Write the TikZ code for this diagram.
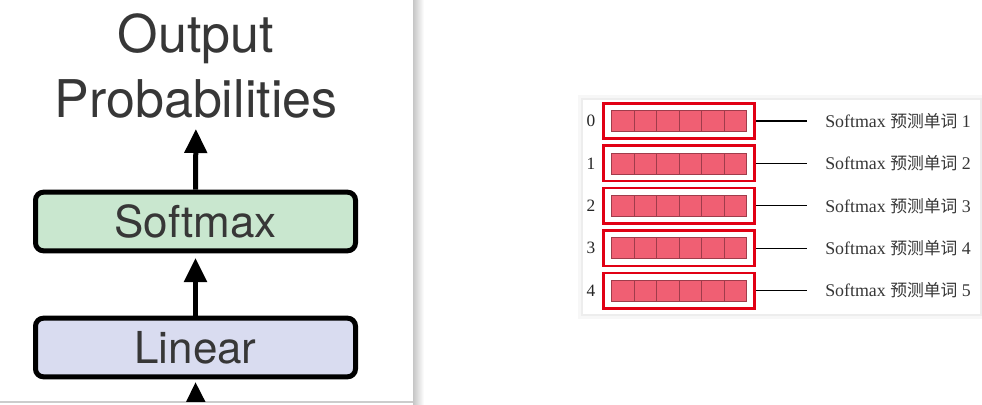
\documentclass[tikz,border=0pt]{standalone}
\usepackage{fontspec}
\setmainfont{Liberation Serif}
\newfontfamily\heros{TeX Gyre Heros}
\newfontfamily\cjk{Noto Sans CJK SC}
\usetikzlibrary{arrows.meta,positioning}

\definecolor{softgreen}{RGB}{201,231,207}
\definecolor{linblue}{RGB}{217,220,240}
\definecolor{cellred}{RGB}{240,95,115}
\definecolor{celledge}{RGB}{160,60,75}
\definecolor{framered}{RGB}{225,0,20}
\definecolor{txtgray}{RGB}{55,55,55}

\tikzset{
  blockbox/.style={draw=black, line width=3.75pt, rounded corners=6pt,
    minimum width=240pt, minimum height=44pt, inner sep=0pt,
    font=\heros\fontsize{33}{36}\selectfont, text=txtgray},
  uparrow/.style={-{Triangle[width=16.5pt,length=18pt]}, line width=3.75pt},
  predbox/.style={draw=framered, line width=1.9pt, minimum width=113.6pt,
    minimum height=26.6pt, inner sep=0pt},
  cell/.style={draw=celledge, fill=cellred, line width=0.6pt,
    minimum width=16.875pt, minimum height=15.75pt, inner sep=0pt},
  idx/.style={font=\fontsize{13}{14}\selectfont, inner sep=0pt, text=black!85},
  pred/.style={font=\fontsize{13.4}{14}\selectfont, inner sep=0pt, anchor=west, text=txtgray},
}

\begin{document}
\begin{tikzpicture}[x=0.75pt,y=-0.75pt]
\useasboundingbox (0,0) rectangle (982,404);

% Panel izquierdo
\shade[left color=gray!45, right color=white] (413,0) rectangle (424,404);
\draw[gray!40, line width=1.2pt] (0,402) -- (413,402);
\begin{scope}
	\clip (0,0) rectangle (413,401);
	\node[font=\heros\fontsize{39}{48.75}\selectfont, text=txtgray, align=center,
		inner sep=0pt, anchor=south] (out) at (196,119) {Output\\Probabilities};
	\node[blockbox, fill=softgreen] (soft) at (195.5,221.5) {Softmax};
	\node[blockbox, fill=linblue] (lin) at (195.5,347.5) {Linear};
	\coordinate (feed) at (196,430);

	\draw[uparrow, shorten >=7.5pt] (soft.north) -- (out.south);
	\draw[uparrow, shorten >=3.5pt] (lin.north) -- (soft.south);
	\draw[uparrow, shorten >=2pt] (feed) -- (lin.south);
\end{scope}

% Panel derecho
\fill[gray!6] (578,95) rectangle (982,319);
\fill[gray!14] (581,98) rectangle (982,316);
\fill[white] (583,100) rectangle (980,314);

\foreach \i [count=\n] in {0,...,4}{
	\node[predbox] (box\i) at (679,121+42.4*\i) {};
	\foreach \j in {0,...,5}
		\node[cell] at (623+22.5*\j,121+42.4*\i) {};
	\node[idx] (idx\i) at (591,121+42.4*\i) {\i};
	\node[pred] (pred\i) at (825,121+42.4*\i) {Softmax {\cjk\fontsize{12.6}{14}\selectfont 预测单词} \n};
	\draw[line width=0.9pt, shorten >=13.5pt] (box\i.east) -- (pred\i.west);
}
\end{tikzpicture}
\end{document}
